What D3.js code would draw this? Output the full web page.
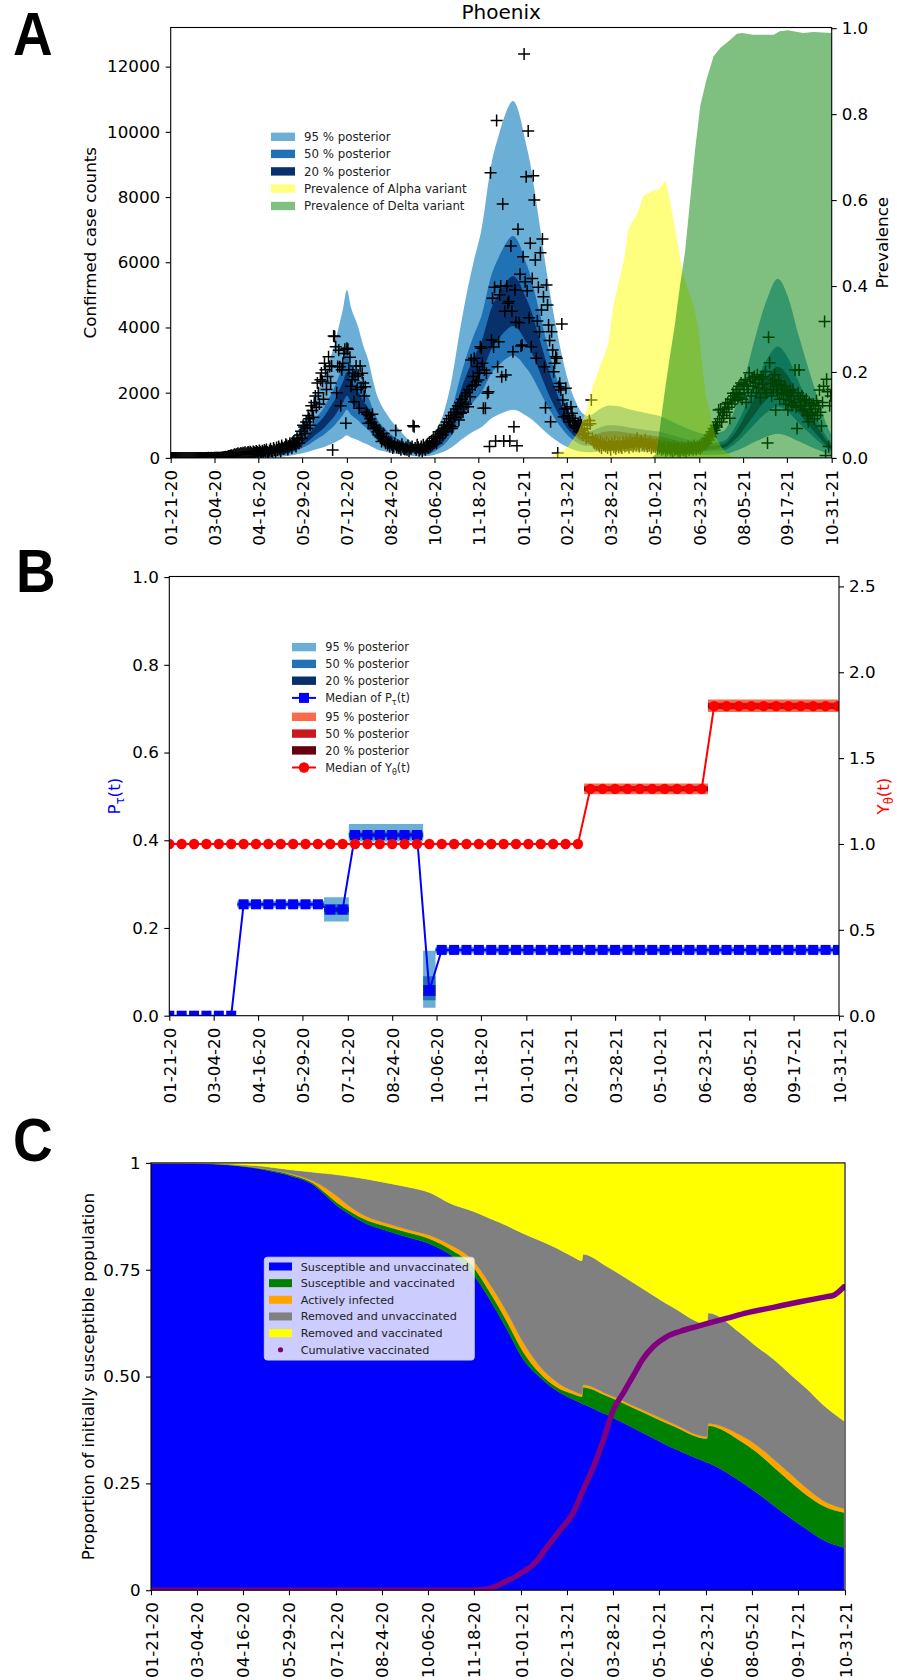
<!DOCTYPE html>
<html>
<head>
<meta charset="utf-8">
<script src="https://cdn.jsdelivr.net/npm/d3@7"></script>
<style>
  html,body{margin:0;padding:0;background:#fff;}
  svg{display:block;}
  text{font-family:"DejaVu Sans",sans-serif;}
</style>
</head>
<body>
<svg id="fig" width="897" height="1680" xmlns="http://www.w3.org/2000/svg"></svg>
<script>
// ======================= DATA =======================
const startDay = "2020-01-21";
const xTickLabels = ["01-21-20","03-04-20","04-16-20","05-29-20","07-12-20","08-24-20","10-06-20","11-18-20",
  "01-01-21","02-13-21","03-28-21","05-10-21","06-23-21","08-05-21","09-17-21","10-31-21"];
const caseTicks = [0,2000,4000,6000,8000,10000,12000];
const prevTicks = [0,0.2,0.4,0.6,0.8,1.0];
const pTauTicks = [0,0.2,0.4,0.6,0.8,1.0];
const yThetaTicks = [0,0.5,1.0,1.5,2.0,2.5];
const propTicks = [0,0.25,0.5,0.75,1];
const propTickLabels = ["0","0.25","0.50","0.75","1"];

// daily confirmed case counts, one per day from 01-21-20
const caseCounts = [
0,0,0,0,0,0,0, 0,0,0,0,0,0,0, 0,0,0,0,0,0,0, 0,0,0,0,0,0,0, 0,0,0,0,0,0,0,
0,0,1,0,0,1,0, 0,1,2,3,2,5,8, 6,12,15,20,28,35,30, 45,60,55,70,85,60,95,
110,90,120,140,105,130,150, 120,160,140,170,110,150,180, 140,190,160,120,200,170,150,
210,180,150,230,190,160,220, 170,240,200,260,180,150,230, 280,210,190,300,250,170,320,
240,350,290,200,380,310,270, 330,420,380,260,350,450,400, 300,480,520,400,350,600,550,
450,700,820,600,1000,950,750, 1100,900,1300,1200,1000,1600,1450, 1250,1700,1900,1550,2300,2000,1650,
2400,2600,2350,1800,2900,2700,2100, 2500,3100,2800,2300,2820,242,3740, 3720,3411,2000,2800,3300,2798,1600,
2700,2900,3200,3331,1061,3365,3331, 2700,3086,2200,2400,2600,1724,2500, 2818,2100,2543,1521,2819,2160,2598,
2300,1900,2184,1400,1337,1061,1316, 1200,1100,1337,900,1000,950,900, 800,700,850,650,500,600,750,
550,450,600,400,500,350,480, 400,300,350,450,844,320,380, 300,350,250,420,330,280,260,
320,250,380,210,300,280,350, 988,954,300,250,400,330,220, 280,350,200,400,300,250,380,
420,300,480,350,520,400,600, 500,650,450,700,800,600,750, 850,700,900,1000,800,1100,950,
1200,1000,1300,900,957,1400,1250, 1500,1350,1600,1163,1700,1368,1800, 1400,1571,1900,1650,2000,1571,2100,
1877,3003,2200,2500,3055,2236,2337, 2800,2390,2600,3411,3362,2900,1521, 2696,1521,2595,1981,2031,353,8749,
3616,4896,3400,5233,518,10344,2798, 3564,5000,5273,2491,7788,518,4500, 2543,5273,4742,4800,520,6500,4500,
3258,957,5150,4159,374,7012,4147, 5632,3432,3463,6172,12390,5400,8626, 5129,10028,4300,6583,3411,5500,8657,
7911,6071,3055,4200,5233,3871,6295, 4537,6715,4945,2798,1540,5304,4690, 4077,3600,1110,3871,3310,2644,2900,
3104,3055,153,2184,2288,2083,4107, 1776,1264,1500,2135,1521,1300,1200, 1100,1571,1368,1215,1000,1150,950,
900,1050,800,1100,1009,850,700, 900,750,600,1000,650,1150,1050, 1776,600,500,450,550,400,500,
400,350,500,300,450,380,420, 350,480,300,420,380,250,450, 400,330,500,280,370,450,320,
420,360,300,480,400,350,500, 380,450,320,520,400,470,350, 430,500,380,600,420,350,480,
520,400,450,380,560,420,350, 450,380,500,300,420,350,400, 330,420,280,380,300,350,250,
320,280,350,220,300,260,330, 280,230,300,200,350,250,270, 300,220,280,180,250,330,260,
230,300,200,280,350,240,310, 280,330,250,380,300,260,350, 300,380,280,420,350,450,400,
500,450,600,550,700,650,800, 750,900,850,1000,950,1100,1469, 1200,1490,1100,1400,1300,1500,1650,
1400,1700,1550,1215,1800,1650,1981, 1900,1750,2000,2100,1850,2200,1950, 2300,1800,2250,2000,2400,1700,2200,
2100,2614,2350,1900,2450,2200,2500, 2300,2000,2550,2150,2400,1850,2450, 2250,2500,2100,2650,2000,460,3699,
2920,2300,1900,2400,2100,2550,1469, 2200,2000,2350,1800,2250,1950,2100, 1800,2200,1650,2000,1469,1750,2050,
1900,1600,2100,1700,2696,1550,900, 2000,2696,1800,1600,1900,1450,1750, 1500,1800,1300,1110,1700,1400,1600,
1350,1650,1200,1500,1750,1300,1600, 2083,1400,978,1700,2200,4187,77, 2411,2030,353,1600,1900,2100];

// posterior bands of case counts (days since 01-21-20)
const bandDays = [0,35,50,62,75,88,100,110,118,127,135,143,150,156,161,165,169,173,177,184,
  189,194,198,202,207,212,217,222,230,238,245,250,256,261,268,276,284,290,298,305,
  315,322,329,336,343,347,353,358,363,370,379,386,392,398,404,410,418,425,431,440,
  450,460,470,480,490,500,510,520,528,536,544,550,557,566,575,585,596,606,616,626,636,643,649];
const band95Low = [0,0,2,5,8,11,20,40,71,129,186,267,330,405,471,543,614,694,623,543,
  465,405,332,267,217,183,152,129,90,62,50,47,71,115,186,326,529,667,822,942,
  1218,1333,1426,1476,1411,1333,1218,1085,942,744,529,388,295,229,186,174,192,211,217,214,
  202,192,183,174,155,135,118,102,96,102,115,161,239,372,515,651,741,667,515,372,239,149,93];
const band50Low = [0,0,3,10,17,23,43,86,152,274,396,568,703,861,1003,1155,1307,1478,1327,1155,
  990,861,706,568,462,389,323,274,191,132,106,99,152,246,396,693,1125,1419,1749,2006,
  2594,2838,3036,3142,3003,2838,2594,2310,2006,1584,1125,825,627,488,396,370,409,449,462,455,
  429,409,389,370,330,287,251,218,205,218,246,343,510,792,1096,1386,1577,1419,1096,792,510,317,198];
const band20Low = [0,0,4,13,21,30,55,111,196,353,510,731,905,1109,1292,1488,1683,1904,1709,1488,
  1275,1109,910,731,595,502,417,353,247,170,136,128,196,316,510,893,1449,1828,2253,2584,
  3341,3655,3910,4046,3868,3655,3341,2975,2584,2040,1449,1063,808,629,510,476,527,578,595,587,
  553,527,502,476,425,370,323,281,264,281,316,442,656,1020,1411,1785,2032,1828,1411,1020,656,408,255];
const band20High = [0,0,6,18,29,41,76,152,269,486,702,1006,1246,1527,1778,2048,2317,2621,2352,2048,
  1755,1527,1252,1006,819,690,573,486,339,234,187,176,269,435,702,1229,1995,2516,3101,3557,
  4598,5031,5382,5569,5324,5031,4598,4095,3557,2808,1995,1463,1112,866,702,655,725,796,819,807,
  761,725,690,655,585,509,445,386,363,386,435,608,903,1404,1942,2457,2796,2516,1942,1404,903,562,351];
const band50High = [0,0,7,21,36,50,93,186,329,593,858,1230,1523,1866,2174,2503,2831,3203,2874,2503,
  2145,1866,1530,1230,1001,844,701,593,415,286,229,215,329,532,858,1502,2438,3075,3790,4347,
  5620,6149,6578,6807,6507,6149,5620,5005,4347,3432,2438,1788,1359,1058,858,801,887,972,1001,987,
  930,887,844,801,715,622,543,472,443,472,532,744,1104,1716,2374,3003,3418,3075,2374,1716,1104,686,429];
const band95High = [0,0,12,35,58,81,150,299,529,955,1380,1978,2450,3002,3496,4025,4554,5152,4623,4025,
  3450,3002,2461,1978,1610,1357,1127,955,667,460,368,345,529,856,1380,2415,3922,4945,6095,6992,
  9039,9890,10580,10948,10465,9890,9039,8050,6992,5520,3922,2875,2185,1702,1380,1288,1426,1564,1610,1587,
  1495,1426,1357,1288,1150,1001,874,759,713,759,856,1196,1776,2760,3818,4830,5497,4945,3818,2760,1776,1104,690];

// variant prevalence (right axis)
const alphaDays = [370,376,389,400,408,415,421,426,430,435,441,445,449,453,458,464,472,479,486,490,494,502,508,514,518,525,530,535,542,552];
const alphaPrev = [0,0.005,0.023,0.06,0.11,0.17,0.21,0.24,0.27,0.36,0.42,0.46,0.53,0.55,0.567,0.61,0.62,0.625,0.646,0.6,0.55,0.44,0.39,0.35,0.3,0.15,0.1,0.05,0.02,0];
const deltaDays = [472,477,482,486,490,495,500,505,510,515,520,526,533,540,546,556,561,572,592,598,606,621,631,649];
const deltaPrev = [0,0.01,0.1,0.17,0.234,0.31,0.40,0.48,0.60,0.72,0.82,0.88,0.935,0.955,0.966,0.987,0.989,0.985,0.985,0.993,0.995,0.989,0.991,0.989];

// panel B parameters every 12 days
const paramDays = [0,12,24,36,48,60,72,84,96,108,120,132,144,156,168,180,192,204,216,228,240,252,264,276,288,300,
  312,324,336,348,360,372,384,396,408,420,432,444,456,468,480,492,504,516,528,540,552,564,576,588,600,612,624,636,648];
const pTauMedian = [0,0,0,0,0,0, .254,.254,.254,.254,.254,.254,.254, .242,.242, .412,.412,.412,.412,.412,.412, .057,
  .15,.15,.15,.15,.15,.15,.15,.15,.15,.15,.15, .15,.15,.15,.15,.15,.15,.15,.15,.15,.15,.15, .15,.15,.15,.15,.15,.15,.15,.15,.15,.15,.15];
const pTau95Low = [0,0,0,0,0,0, .246,.246,.246,.246,.246,.246,.246, .215,.215, .397,.397,.397,.397,.397,.397, .018,
  .142,.142,.142,.142,.142,.142,.142,.142,.142,.142,.142, .142,.142,.142,.142,.142,.142,.142,.142,.142,.142,.142, .142,.142,.142,.142,.142,.142,.142,.142,.142,.142,.142];
const pTau95High = [0,0,0,0,0,0, .262,.262,.262,.262,.262,.262,.262, .270,.270, .437,.437,.437,.437,.437,.437, .148,
  .157,.157,.157,.157,.157,.157,.157,.157,.157,.157,.157, .157,.157,.157,.157,.157,.157,.157,.157,.157,.157,.157, .157,.157,.157,.157,.157,.157,.157,.157,.157,.157,.157];
const pTau50Low = [0,0,0,0,0,0, .250,.250,.250,.250,.250,.250,.250, .230,.230, .404,.404,.404,.404,.404,.404, .035,
  .146,.146,.146,.146,.146,.146,.146,.146,.146,.146,.146, .146,.146,.146,.146,.146,.146,.146,.146,.146,.146,.146, .146,.146,.146,.146,.146,.146,.146,.146,.146,.146,.146];
const pTau50High = [0,0,0,0,0,0, .258,.258,.258,.258,.258,.258,.258, .254,.254, .420,.420,.420,.420,.420,.420, .090,
  .154,.154,.154,.154,.154,.154,.154,.154,.154,.154,.154, .154,.154,.154,.154,.154,.154,.154,.154,.154,.154,.154, .154,.154,.154,.154,.154,.154,.154,.154,.154,.154,.154];
const pTau20Low = [0,0,0,0,0,0, .252,.252,.252,.252,.252,.252,.252, .236,.236, .408,.408,.408,.408,.408,.408, .045,
  .148,.148,.148,.148,.148,.148,.148,.148,.148,.148,.148, .148,.148,.148,.148,.148,.148,.148,.148,.148,.148,.148, .148,.148,.148,.148,.148,.148,.148,.148,.148,.148,.148];
const pTau20High = [0,0,0,0,0,0, .256,.256,.256,.256,.256,.256,.256, .248,.248, .416,.416,.416,.416,.416,.416, .070,
  .152,.152,.152,.152,.152,.152,.152,.152,.152,.152,.152, .152,.152,.152,.152,.152,.152,.152,.152,.152,.152,.152, .152,.152,.152,.152,.152,.152,.152,.152,.152,.152,.152];

const yThetaMedian = [1,1,1,1,1,1,1,1,1,1, 1,1,1,1,1,1,1,1,1,1, 1,1,1,1,1,1,1,1,1,1, 1,1,1,1,
  1.321,1.321,1.321,1.321,1.321,1.321,1.321,1.321,1.321,1.321, 1.803,1.803,1.803,1.803,1.803,1.803,1.803,1.803,1.803,1.803,1.803];
const yTheta95Low = [1,1,1,1,1,1,1,1,1,1, 1,1,1,1,1,1,1,1,1,1, 1,1,1,1,1,1,1,1,1,1, 1,1,1,1,
  1.29,1.29,1.29,1.29,1.29,1.29,1.29,1.29,1.29,1.29, 1.768,1.768,1.768,1.768,1.768,1.768,1.768,1.768,1.768,1.768,1.768];
const yTheta95High = [1,1,1,1,1,1,1,1,1,1, 1,1,1,1,1,1,1,1,1,1, 1,1,1,1,1,1,1,1,1,1, 1,1,1,1,
  1.352,1.352,1.352,1.352,1.352,1.352,1.352,1.352,1.352,1.352, 1.841,1.841,1.841,1.841,1.841,1.841,1.841,1.841,1.841,1.841,1.841];
const yTheta50Low = [1,1,1,1,1,1,1,1,1,1, 1,1,1,1,1,1,1,1,1,1, 1,1,1,1,1,1,1,1,1,1, 1,1,1,1,
  1.305,1.305,1.305,1.305,1.305,1.305,1.305,1.305,1.305,1.305, 1.785,1.785,1.785,1.785,1.785,1.785,1.785,1.785,1.785,1.785,1.785];
const yTheta50High = [1,1,1,1,1,1,1,1,1,1, 1,1,1,1,1,1,1,1,1,1, 1,1,1,1,1,1,1,1,1,1, 1,1,1,1,
  1.337,1.337,1.337,1.337,1.337,1.337,1.337,1.337,1.337,1.337, 1.822,1.822,1.822,1.822,1.822,1.822,1.822,1.822,1.822,1.822,1.822];
const yTheta20Low = [1,1,1,1,1,1,1,1,1,1, 1,1,1,1,1,1,1,1,1,1, 1,1,1,1,1,1,1,1,1,1, 1,1,1,1,
  1.313,1.313,1.313,1.313,1.313,1.313,1.313,1.313,1.313,1.313, 1.795,1.795,1.795,1.795,1.795,1.795,1.795,1.795,1.795,1.795,1.795];
const yTheta20High = [1,1,1,1,1,1,1,1,1,1, 1,1,1,1,1,1,1,1,1,1, 1,1,1,1,1,1,1,1,1,1, 1,1,1,1,
  1.329,1.329,1.329,1.329,1.329,1.329,1.329,1.329,1.329,1.329, 1.811,1.811,1.811,1.811,1.811,1.811,1.811,1.811,1.811,1.811,1.811];

// panel C compartments (proportions)
const cDays = [0,40,77,108,130,152,164,174,186,202,217,239,261,280,301,317,333,348,364,379,395,403,404,426,457,488,520,521,551,566,582,598,613,629,648];
const suscUnvacc = [1,.999,.994,.983,.970,.948,.922,.900,.879,.857,.844,.827,.810,.785,.740,.680,.610,.541,.498,.468,.446,.437,.436,.411,.372,.333,.299,.298,.255,.229,.199,.169,.143,.117,.100];
const suscVacc   = [0,.0003,.001,.002,.003,.004,.006,.007,.008,.009,.010,.011,.012,.013,.018,.017,.018,.017,.009,.008,.013,.016,.039,.044,.048,.052,.056,.087,.095,.095,.090,.085,.080,.080,.082];
const activeInf  = [0,.0002,.0005,.001,.002,.005,.012,.015,.011,.008,.007,.007,.008,.010,.014,.019,.022,.022,.016,.012,.007,.006,.006,.005,.005,.005,.004,.005,.013,.016,.018,.018,.016,.012,.009];
const remUnvacc  = [0,.0002,.0015,.005,.009,.021,.035,.050,.070,.088,.094,.099,.100,.097,.115,.154,.203,.255,.295,.313,.314,.312,.305,.298,.285,.272,.264,.259,.239,.231,.234,.233,.233,.224,.205];
const remVacc    = [0,.0005,.003,.009,.016,.022,.025,.028,.032,.038,.045,.056,.070,.095,.113,.130,.147,.165,.182,.199,.220,.229,.214,.242,.290,.338,.377,.351,.398,.429,.459,.495,.528,.567,.604];
const vaxDays = [0,300,310,317,325,333,341,348,358,370,382,395,404,414,423,432,442,451,460,470,482,495,510,523,538,557,582,607,632,638,648];
const cumVaccinated = [0,0,0.001,0.004,0.012,0.022,0.032,0.043,0.061,0.100,0.139,0.182,0.234,0.290,0.351,0.420,0.463,0.502,0.541,0.571,0.593,0.606,0.617,0.626,0.636,0.649,0.662,0.675,0.687,0.690,0.710];

// ======================= DRAWING =======================
const START = d3.utcParse("%Y-%m-%d")(startDay).getTime();
const dayToDate = d => new Date(START + d * 864e5);
const tickDates = xTickLabels.map(d3.utcParse("%m-%d-%y"));
const xDomain = [dayToDate(0), dayToDate(649)];

const svg = d3.select("#fig");
const defs = svg.append("defs");
const A = {l:170.7, r:831.7, t:27.5, b:457.9};
const B = {l:169.3, r:839, t:576.5, b:1015.7};
const C = {l:151, r:845, t:1162.9, b:1590.2};
function addClip(id, P){
  defs.append("clipPath").attr("id", id).append("rect")
    .attr("x", P.l).attr("y", P.t).attr("width", P.r - P.l).attr("height", P.b - P.t);
}
addClip("clipA", A); addClip("clipB", B); addClip("clipC", C);

const FS = 16.7;
function styleAxis(g){
  g.attr("font-family", "DejaVu Sans").attr("font-size", FS);
  g.select(".domain").remove();
  g.selectAll(".tick line").attr("stroke", "#000").attr("stroke-width", 1.1);
  g.selectAll(".tick text").attr("fill", "#000");
}
function bottomAxis(x){
  return d3.axisBottom(x).tickValues(tickDates).tickFormat((d, i) => xTickLabels[i]).tickSize(5).tickSizeOuter(0);
}
function styleX(g){
  styleAxis(g);
  g.selectAll(".tick text").attr("transform", "rotate(-90)").attr("text-anchor", "end")
    .attr("x", -12).attr("y", 0).attr("dy", "0.36em");
}
function frame(P){
  svg.append("rect").attr("x", P.l).attr("y", P.t).attr("width", P.r - P.l).attr("height", P.b - P.t)
    .attr("fill", "none").attr("stroke", "#000").attr("stroke-width", 1.1);
}
function vLabel(x, y, txt, color, rot){
  return svg.append("text").attr("transform", `translate(${x},${y}) rotate(${rot})`)
    .attr("text-anchor", "middle").attr("font-size", FS).attr("fill", color || "#000").text(txt);
}

// ---------------- Panel A ----------------
const xA = d3.scaleUtc().domain(xDomain).range([A.l, A.r]);
const yA = d3.scaleLinear().domain([0, 13200]).range([A.b, A.t]);
const yA2 = d3.scaleLinear().domain([0, 1]).range([A.b, 28.2]);
const inA = svg.append("g").attr("clip-path", "url(#clipA)");
const bandPath = (lo, hi) => d3.area()
  .x((d, i) => xA(dayToDate(bandDays[i]))).y0((d, i) => yA(lo[i])).y1((d, i) => yA(hi[i]))
  .curve(d3.curveMonotoneX)(bandDays);
[[band95Low, band95High, "#6baed6"], [band50Low, band50High, "#2171b5"], [band20Low, band20High, "#08306b"]]
  .forEach(([lo, hi, c]) => inA.append("path").attr("d", bandPath(lo, hi)).attr("fill", c));
inA.append("g").selectAll("path").data(caseCounts).join("path")
  .attr("transform", (v, i) => `translate(${xA(dayToDate(i))},${yA(v)})`)
  .attr("d", "M-6,0H6M0,-6V6").attr("stroke", "#000").attr("stroke-width", 1.5).attr("fill", "none");
const prevPath = (days, vals) => d3.area().x((d, i) => xA(dayToDate(days[i]))).y0(yA2(0)).y1((d, i) => yA2(vals[i]))(days);
inA.append("path").attr("d", prevPath(alphaDays, alphaPrev)).attr("fill", "#ffff00").attr("fill-opacity", 0.5);
inA.append("path").attr("d", prevPath(deltaDays, deltaPrev)).attr("fill", "#008000").attr("fill-opacity", 0.5);

svg.append("g").attr("transform", `translate(${A.l},0)`)
  .call(d3.axisLeft(yA).tickValues(caseTicks).tickFormat(d3.format("d")).tickSize(5).tickPadding(5.5)).call(styleAxis);
svg.append("g").attr("transform", `translate(${A.r},0)`)
  .call(d3.axisRight(yA2).tickValues(prevTicks).tickFormat(d3.format(".1f")).tickSize(5).tickPadding(5)).call(styleAxis);
svg.append("g").attr("transform", `translate(0,${A.b})`).call(bottomAxis(xA)).call(styleX);
frame(A);
vLabel(96, (A.t + A.b) / 2, "Confirmed case counts", "#000", -90);
vLabel(888, (A.t + A.b) / 2, "Prevalence", "#000", -90);
svg.append("text").attr("x", (A.l + A.r) / 2).attr("y", 18.6).attr("text-anchor", "middle")
  .attr("font-size", 20).text("Phoenix");

// legend A
const legA = [["95 % posterior", "#6baed6"], ["50 % posterior", "#2171b5"], ["20 % posterior", "#08306b"],
  ["Prevalence of Alpha variant", "#ffff80"], ["Prevalence of Delta variant", "#80c080"]];
const legAy = [136.8, 153.9, 171.4, 188.6, 206];
legA.forEach(([t, c], i) => {
  svg.append("rect").attr("x", 271).attr("y", legAy[i] - 4.2).attr("width", 24).attr("height", 8.4).attr("fill", c);
  svg.append("text").attr("x", 304).attr("y", legAy[i] + 4.2).attr("font-size", 11.8).attr("fill", "#222").text(t);
});

// ---------------- Panel B ----------------
const xB = d3.scaleUtc().domain(xDomain).range([B.l, B.r]);
const yB = d3.scaleLinear().domain([0, 1]).range([B.b, 577.1]);
const yB2 = d3.scaleLinear().domain([0, 2.5]).range([B.b, 586.4]);
const inB = svg.append("g").attr("clip-path", "url(#clipB)");
const stepBand = (y, lo, hi) => d3.area().x((d, i) => xB(dayToDate(paramDays[i])))
  .y0((d, i) => y(lo[i])).y1((d, i) => y(hi[i])).curve(d3.curveStep)(paramDays);
[[pTau95Low, pTau95High, "#6baed6"], [pTau50Low, pTau50High, "#2171b5"], [pTau20Low, pTau20High, "#08306b"]]
  .forEach(([lo, hi, c]) => inB.append("path").attr("d", stepBand(yB, lo, hi)).attr("fill", c));
inB.append("path").attr("d", d3.line().x((d, i) => xB(dayToDate(paramDays[i]))).y((d, i) => yB(pTauMedian[i]))(paramDays))
  .attr("fill", "none").attr("stroke", "#0000ff").attr("stroke-width", 2);
inB.append("g").selectAll("rect").data(pTauMedian).join("rect")
  .attr("x", (v, i) => xB(dayToDate(paramDays[i])) - 5).attr("y", v => yB(v) - 5)
  .attr("width", 10).attr("height", 10).attr("fill", "#0000ff");
[[yTheta95Low, yTheta95High, "#fb6a4a"], [yTheta50Low, yTheta50High, "#cb181d"], [yTheta20Low, yTheta20High, "#67000d"]]
  .forEach(([lo, hi, c]) => inB.append("path").attr("d", stepBand(yB2, lo, hi)).attr("fill", c));
inB.append("path").attr("d", d3.line().x((d, i) => xB(dayToDate(paramDays[i]))).y((d, i) => yB2(yThetaMedian[i]))(paramDays))
  .attr("fill", "none").attr("stroke", "#ff0000").attr("stroke-width", 2);
inB.append("g").selectAll("circle").data(yThetaMedian).join("circle")
  .attr("cx", (v, i) => xB(dayToDate(paramDays[i]))).attr("cy", v => yB2(v)).attr("r", 5.2).attr("fill", "#ff0000");

svg.append("g").attr("transform", `translate(${B.l},0)`)
  .call(d3.axisLeft(yB).tickValues(pTauTicks).tickFormat(d3.format(".1f")).tickSize(5).tickPadding(5.5)).call(styleAxis);
svg.append("g").attr("transform", `translate(${B.r},0)`)
  .call(d3.axisRight(yB2).tickValues(yThetaTicks).tickFormat(d3.format(".1f")).tickSize(5).tickPadding(5)).call(styleAxis);
svg.append("g").attr("transform", `translate(0,${B.b})`).call(bottomAxis(xB)).call(styleX);
frame(B);
function subLabel(x, y, main, sub, color){
  const t = svg.append("text").attr("transform", `translate(${x},${y}) rotate(-90)`)
    .attr("text-anchor", "middle").attr("font-size", FS).attr("fill", color);
  t.append("tspan").text(main);
  t.append("tspan").attr("dy", 4).attr("font-size", 11.5).text(sub);
  t.append("tspan").attr("dy", -4).text("(t)");
}
subLabel(119.5, (B.t + B.b) / 2, "P", "τ", "#0000ff");
subLabel(888.5, (B.t + B.b) / 2, "Y", "θ", "#ff0000");

// legend B
const legBy = [647.1, 663.9, 680.7, 697.9, 716.8, 733.6, 750.4, 767.5];
const legB = [["95 % posterior", "#6baed6"], ["50 % posterior", "#2171b5"], ["20 % posterior", "#08306b"], ["P", "#0000ff", "sq", "τ"],
  ["95 % posterior", "#fb6a4a"], ["50 % posterior", "#cb181d"], ["20 % posterior", "#67000d"], ["Y", "#ff0000", "ci", "θ"]];
legB.forEach(([t, c, m, sub], i) => {
  const y = legBy[i];
  if (!m) {
    svg.append("rect").attr("x", 292).attr("y", y - 4.2).attr("width", 24).attr("height", 8.4).attr("fill", c);
    svg.append("text").attr("x", 325.3).attr("y", y + 4.1).attr("font-size", 11.4).attr("fill", "#222").text(t);
  } else {
    svg.append("line").attr("x1", 292).attr("x2", 316).attr("y1", y).attr("y2", y).attr("stroke", c).attr("stroke-width", 2);
    if (m === "sq") svg.append("rect").attr("x", 299).attr("y", y - 5).attr("width", 10).attr("height", 10).attr("fill", c);
    else svg.append("circle").attr("cx", 304).attr("cy", y).attr("r", 5.2).attr("fill", c);
    const tx = svg.append("text").attr("x", 325.3).attr("y", y + 4.1).attr("font-size", 11.4).attr("fill", "#222");
    tx.append("tspan").text("Median of " + t);
    tx.append("tspan").attr("dy", 3).attr("font-size", 8).text(sub);
    tx.append("tspan").attr("dy", -3).text("(t)");
  }
});

// ---------------- Panel C ----------------
const xC = d3.scaleUtc().domain(xDomain).range([C.l, C.r]);
const yC = d3.scaleLinear().domain([0, 1]).range([C.b, C.t]);
const inC = svg.append("g").attr("clip-path", "url(#clipC)");
const keysC = ["su", "sv", "ai", "ru", "rv"];
const colorC = {su: "#0000ff", sv: "#008000", ai: "#ffa500", ru: "#808080", rv: "#ffff00"};
const rowsC = cDays.map((d, i) => ({day: d, su: suscUnvacc[i], sv: suscVacc[i], ai: activeInf[i], ru: remUnvacc[i], rv: remVacc[i]}));
const stackC = d3.stack().keys(keysC)(rowsC);
const areaC = d3.area().x(d => xC(dayToDate(d.data.day))).y0(d => yC(d[0])).y1(d => yC(d[1])).curve(d3.curveMonotoneX);
stackC.forEach(s => inC.append("path").attr("d", areaC(s)).attr("fill", colorC[s.key])
  .attr("stroke", colorC[s.key]).attr("stroke-width", 0.4));
inC.append("path").attr("d", d3.line().x((d, i) => xC(dayToDate(vaxDays[i]))).y((d, i) => yC(cumVaccinated[i])).curve(d3.curveMonotoneX)(vaxDays))
  .attr("fill", "none").attr("stroke", "#800080").attr("stroke-width", 5.5).attr("stroke-linecap", "round").attr("stroke-linejoin", "round");

svg.append("g").attr("transform", `translate(${C.l},0)`)
  .call(d3.axisLeft(yC).tickValues(propTicks).tickFormat((d, i) => propTickLabels[i]).tickSize(5).tickPadding(5.5)).call(styleAxis);
svg.append("g").attr("transform", `translate(0,${C.b})`).call(bottomAxis(xC)).call(styleX);
frame(C);
vLabel(94.3, (C.t + C.b) / 2, "Proportion of initially susceptible population", "#000", -90);

// legend C
svg.append("rect").attr("x", 264.3).attr("y", 1257.2).attr("width", 210).attr("height", 102.9).attr("rx", 3)
  .attr("fill", "#fff").attr("fill-opacity", 0.8).attr("stroke", "#d8d8d8").attr("stroke-opacity", 0.8);
const legC = [["Susceptible and unvaccinated", "#0000ff"], ["Susceptible and vaccinated", "#008000"], ["Actively infected", "#ffa500"],
  ["Removed and unvaccinated", "#808080"], ["Removed and vaccinated", "#ffff00"], ["Cumulative vaccinated", "#800080", "dot"]];
legC.forEach(([t, c, m], i) => {
  const y = 1266.5 + i * 16.65;
  if (m) svg.append("circle").attr("cx", 280.5).attr("cy", y).attr("r", 2.6).attr("fill", c);
  else svg.append("rect").attr("x", 269).attr("y", y - 4).attr("width", 23).attr("height", 8).attr("fill", c);
  svg.append("text").attr("x", 300.7).attr("y", y + 4).attr("font-size", 11.2).attr("fill", "#222").text(t);
});

// ---------------- Panel letters ----------------
[["A", 13, 55.4], ["B", 16, 591.8], ["C", 13, 1160.5]].forEach(([t, x, y]) => {
  svg.append("text").attr("transform", `translate(${x},${y}) scale(0.9,1)`)
    .attr("font-family", "Liberation Sans").style("font-family", "'Liberation Sans', Arial, sans-serif")
    .attr("font-weight", "bold").attr("font-size", 61).attr("fill", "#000").text(t);
});
</script>
</body>
</html>
